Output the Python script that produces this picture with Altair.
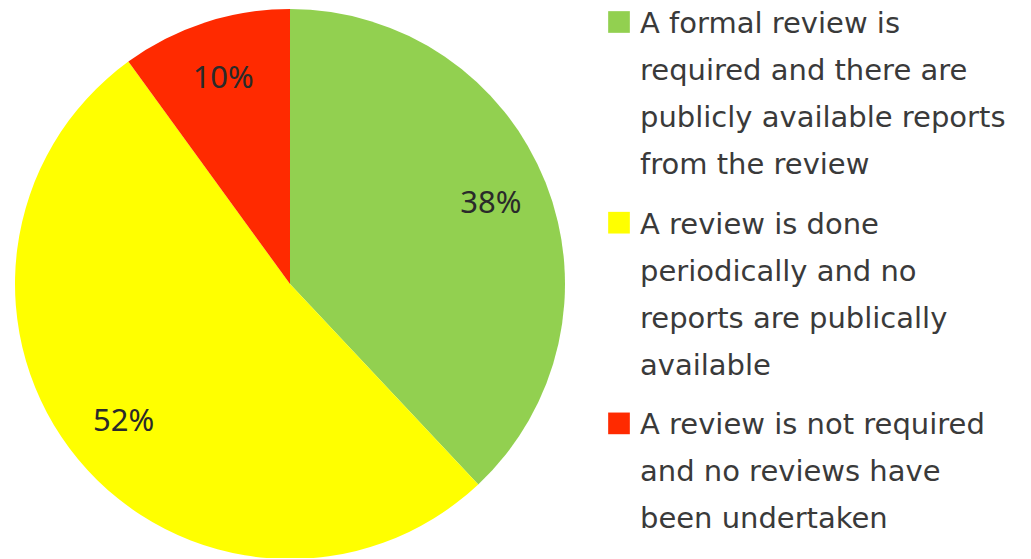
import altair as alt
import pandas as pd

categories = [
    "A formal review is required and there are publicly available reports from the review",
    "A review is done periodically and no reports are publically available",
    "A review is not required and no reviews have been undertaken",
]
legend_lines = [
    "A formal review is\nrequired and there are\npublicly available reports\nfrom the review",
    "A review is done\nperiodically and no\nreports are publically\navailable",
    "A review is not required\nand no reviews have\nbeen undertaken",
]
values = [38, 52, 10]
labels = ["38%", "52%", "10%"]
colors = ["#92D050", "#FFFF00", "#FF2A00"]

df = pd.DataFrame({"cat": categories, "value": values, "label": labels, "order": [0, 1, 2]})

# legend table (positions in "line" units derived from the line counts)
n_lines = [t.count("\n") + 1 for t in legend_lines]
GROUP_GAP = 0.27
pos = []
acc = 0.0
for i, n in enumerate(n_lines):
    pos.append(acc)
    acc += n + GROUP_GAP
leg = pd.DataFrame({"cat": categories, "text": legend_lines, "pos": pos})

color_scale = alt.Scale(domain=categories, range=colors)

base = alt.Chart(df).encode(
    theta=alt.Theta("value:Q", stack=True),
    order=alt.Order("order:Q"),
)

pie = base.mark_arc(radius=275, stroke=None).encode(
    color=alt.Color("cat:N", scale=color_scale, legend=None)
)

pct = base.mark_text(
    radius=216, font="Noto Sans", fontSize=31, color="#2a2a2a"
).encode(text="label:N")

yenc = alt.Y("pos:Q", scale=alt.Scale(domain=[0, 1], range=[12, 59]), axis=None)

leg_sq = alt.Chart(leg).mark_square(size=470, opacity=1).encode(
    x=alt.value(619),
    y=yenc,
    color=alt.Color("cat:N", scale=color_scale, legend=None),
)

leg_txt = alt.Chart(leg).mark_text(
    align="left",
    baseline="alphabetic",
    dy=11,
    lineBreak="\n",
    lineHeight=47,
    font="DejaVu Sans",
    fontSize=29,
    color="#3a3a3a",
).encode(
    x=alt.value(640),
    y=yenc,
    text="text:N",
)

chart = (
    alt.layer(pie, pct, leg_sq, leg_txt)
    .properties(
        width=580,
        height=548,
        background="white",
        autosize=alt.AutoSizeParams(type="none"),
        padding={"top": 10, "left": 0, "right": 450, "bottom": 0},
    )
    .configure_view(strokeWidth=0, stroke="transparent")
)

chart.save("out.html", embed_options={"renderer": "svg", "actions": False})
